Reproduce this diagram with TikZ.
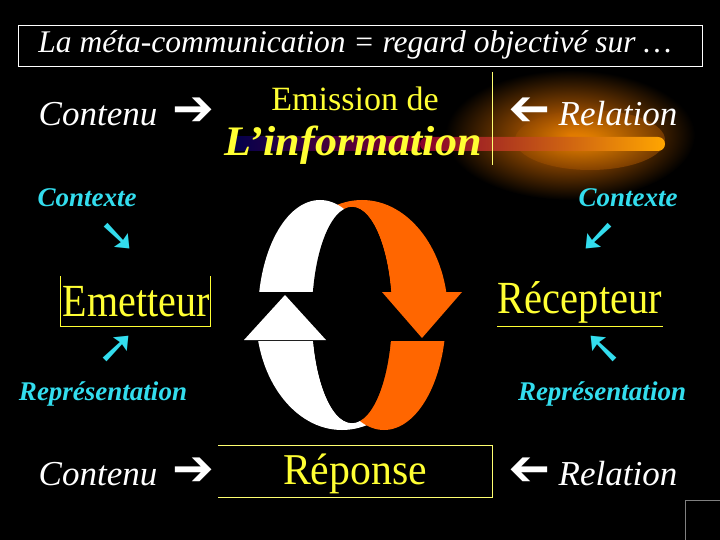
\documentclass[tikz,border=0pt]{standalone}
\usepackage{fontspec}
\usepackage{graphicx}
\setmainfont{Liberation Serif}
\newfontfamily\dv{DejaVu Sans}
\usetikzlibrary{shadings}
\definecolor{yel}{HTML}{FFFF33}
\definecolor{cyn}{HTML}{33DDEE}
\definecolor{org}{HTML}{FF6600}
\tikzset{
 wt/.style={text=white,font=\itshape\fontsize{35}{35}\selectfont,inner sep=0pt},
 cy/.style={text=cyn,font=\bfseries\itshape\fontsize{27}{27}\selectfont,inner sep=0pt},
 yl/.style={text=yel,inner sep=0pt},
 arw/.style={inner sep=0pt,font=\dv\bfseries\fontsize{50}{50}\selectfont},
 darw/.style={inner sep=0pt,text=cyn,font=\dv\bfseries\fontsize{46}{46}\selectfont},
}
\newcommand{\rarw}{➔}
\newcommand{\larw}{\scalebox{-1}[1]{➔}}
\begin{document}
\begin{tikzpicture}[x=1pt,y=-1pt]
\fill[black] (0,0) rectangle (720,540);
\useasboundingbox (0,0) rectangle (720,540);
% glow
\shade[inner color=orange!90!black, outer color=black] (570,135) ellipse (125 and 65);
\shade[inner color=orange!80!yellow, outer color=orange!60!black,opacity=0.6] (590,140) ellipse (75 and 30);
\shade[left color=blue!30!black, right color=purple!70!black] (230,137) rectangle (420,151);
\shade[left color=purple!70!black, right color=orange!70!yellow,rounded corners=7pt] (420,137) rectangle (665,151);
% title
\draw[white,line width=0.8pt] (18,25) rectangle (702,66);
\node[text=white,font=\itshape\fontsize{31.5}{31.5}\selectfont,inner sep=0pt] (title) at (355,45) {La méta-communication = regard objectivé sur \dots};
% top row
\node[wt] (c1) at (98,114) {Contenu};
\node[arw,text=white] (a1) at (193,112) {\rarw};
\node[yl,font=\fontsize{34}{34}\selectfont] (em) at (355,99) {Emission de};
\node[yl,font=\bfseries\itshape\fontsize{42}{42}\selectfont,xscale=1.05] (inf) at (353,145) {L\char"27 information};
\draw[yel!70!white,line width=0.8pt] (492,72) -- (492,165);
\node[arw,text=white] (a2) at (530,112) {\larw};
\node[wt] (r1) at (618,114) {Relation};
% contexte
\node[cy] (cx1) at (87,198) {Contexte};
\node[darw] (d1) at (118,237) {➘};
\node[cy] (cx2) at (628,198) {Contexte};
\node[darw] (d2) at (598,237) {\scalebox{-1}[1]{➘}};
% emetteur / recepteur
\node[yl,font=\fontsize{46}{46}\selectfont,xscale=0.87] (emt) at (136,302) {Emetteur};
\draw[yel,line width=0.8pt] (60,276) -- (60,326) -- (210,326) -- (210,276);
\node[yl,font=\fontsize{46}{46}\selectfont,xscale=0.88] (rec) at (580,302) {Récepteur};
\draw[yel,line width=0.8pt] (497,326) -- (663,326);
% representation
\node[darw] (u1) at (117,349) {➚};
\node[cy] (rp1) at (103,394) {Représentation};
\node[darw] (u2) at (603,349) {\scalebox{-1}[1]{➚}};
\node[cy] (rp2) at (602,394) {Représentation};
% bottom row
\node[wt] (c2) at (98,474) {Contenu};
\node[arw,text=white] (a3) at (193,472) {\rarw};
\draw[yel!70!white,line width=0.8pt] (218,445) -- (492,445) -- (492,497) -- (218,497);
\node[yl,font=\fontsize{44}{44}\selectfont,xscale=0.95] (rep) at (355,474) {Réponse};
\node[arw,text=white] (a4) at (530,472) {\larw};
\node[wt] (r2) at (618,474) {Relation};
\draw[gray,line width=0.8pt] (720,500) -- (685,500) -- (685,540);
% cycle arrows: top half
\begin{scope}
\clip (0,0) rectangle (720,291);
\fill[org,even odd rule] (362,315) ellipse (86 and 115) (352,315) ellipse (40 and 108);
\fill[white] (320,315) ellipse (62 and 115);
\fill[black] (352,315) ellipse (40 and 108);
\end{scope}
\fill[org] (382,292) -- (462,292) -- (422,338) -- cycle;
% bottom half
\begin{scope}
\clip (0,341) rectangle (720,540);
\fill[white,even odd rule] (342,315) ellipse (86 and 115) (352,315) ellipse (40 and 108);
\fill[org] (384,315) ellipse (62 and 115);
\fill[black] (352,315) ellipse (40 and 108);
\end{scope}
\fill[white] (244,340) -- (326,340) -- (285,295) -- cycle;
\end{tikzpicture}
\end{document}
